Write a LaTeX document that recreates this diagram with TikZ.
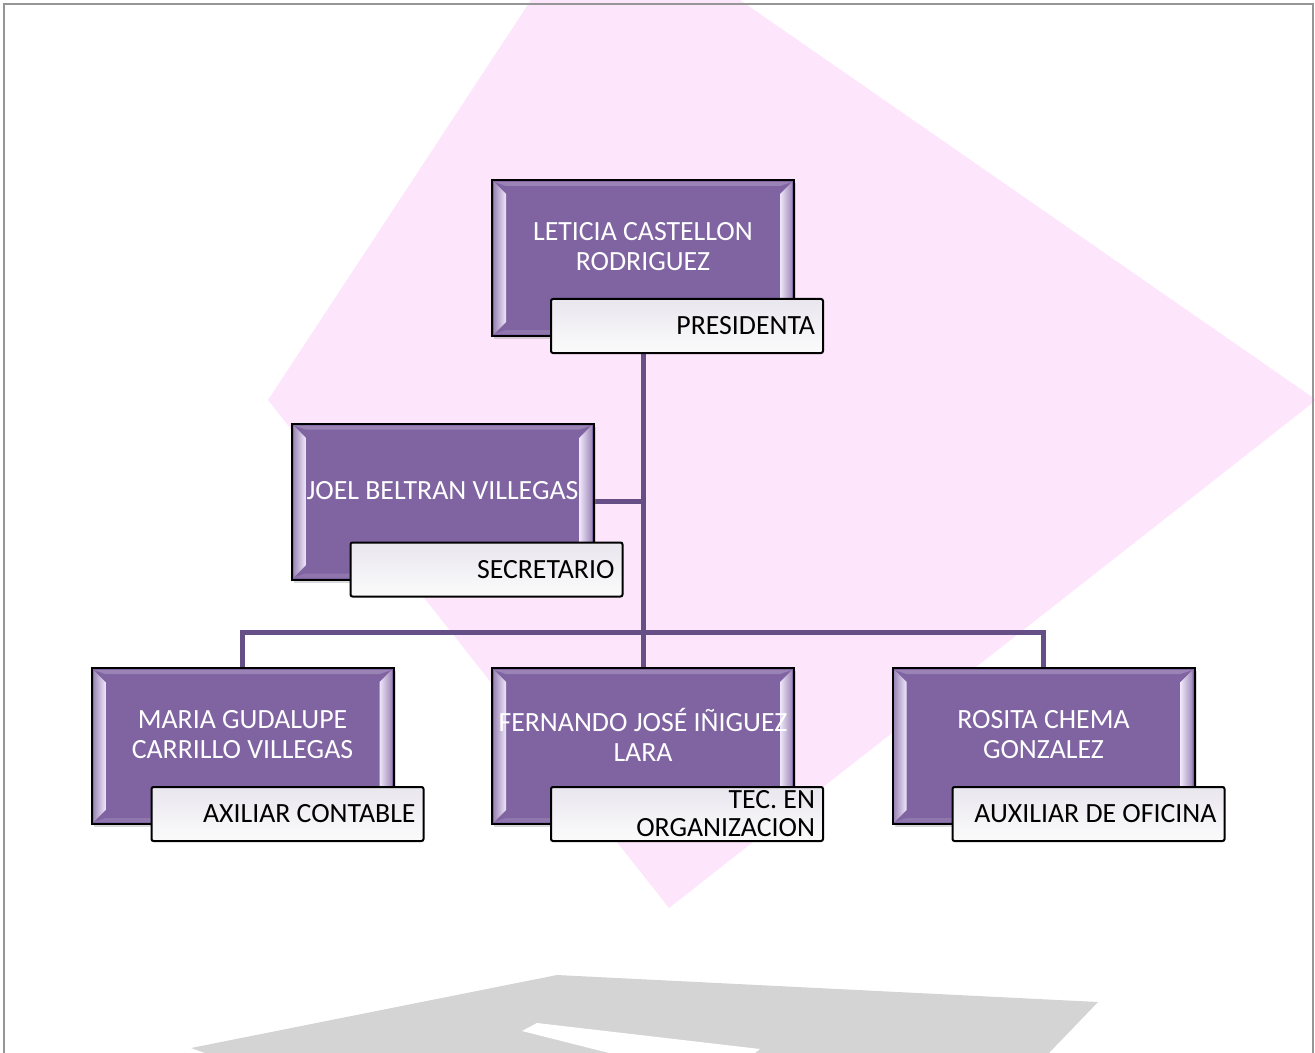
\documentclass[tikz,border=0pt]{standalone}
\usepackage{fontspec}
\setmainfont{Carlito}
\usetikzlibrary{shadows}
\pgfdeclarelayer{fondo}
\pgfdeclarelayer{lineas}
\pgfsetlayers{fondo,lineas,main}
\definecolor{rosa}{RGB}{253,229,252}
\definecolor{morado}{RGB}{128,100,162}
\definecolor{moradoosc}{RGB}{102,79,134}
\definecolor{brillo}{RGB}{238,230,250}
\definecolor{gris}{RGB}{212,212,212}
\definecolor{marco}{RGB}{150,150,150}

\begin{document}
\begin{tikzpicture}[x=0.5pt,y=-0.5pt,
    cargo/.style={rectangle, draw=black, line width=1pt, fill=morado,
        minimum width=151pt, minimum height=78pt, inner sep=0pt,
        drop shadow={opacity=0.3, shadow xshift=1pt, shadow yshift=-1.5pt},
        path picture={
            \fill[morado!80!white]
                ([xshift=1pt,yshift=-1pt]path picture bounding box.north west) --
                ([xshift=-1pt,yshift=-1pt]path picture bounding box.north east) --
                ([xshift=-7pt,yshift=-3pt]path picture bounding box.north east) --
                ([xshift=7pt,yshift=-3pt]path picture bounding box.north west) -- cycle;
            \fill[morado!88!white]
                ([xshift=1pt,yshift=1pt]path picture bounding box.south west) --
                ([xshift=-1pt,yshift=1pt]path picture bounding box.south east) --
                ([xshift=-7pt,yshift=3pt]path picture bounding box.south east) --
                ([xshift=7pt,yshift=3pt]path picture bounding box.south west) -- cycle;
            \shade[left color=morado!75!white, right color=brillo]
                ([xshift=1pt,yshift=-1pt]path picture bounding box.north west) --
                ([xshift=7pt,yshift=-7pt]path picture bounding box.north west) --
                ([xshift=7pt,yshift=7pt]path picture bounding box.south west) --
                ([xshift=1pt,yshift=1pt]path picture bounding box.south west) -- cycle;
            \shade[left color=brillo, right color=morado!75!white]
                ([xshift=-7pt,yshift=-7pt]path picture bounding box.north east) --
                ([xshift=-1pt,yshift=-1pt]path picture bounding box.north east) --
                ([xshift=-1pt,yshift=1pt]path picture bounding box.south east) --
                ([xshift=-7pt,yshift=7pt]path picture bounding box.south east) -- cycle;
        }},
    nombre/.style={text=white, align=center, inner sep=0pt,
        font=\fontsize{13.9}{15}\selectfont},
    puesto/.style={rectangle, draw=black, line width=1pt, rounded corners=1pt,
        top color={rgb,255:red,233;green,230;blue,238}, bottom color={rgb,255:red,251;green,251;blue,251},
        minimum width=136pt, minimum height=27pt, text width=128pt,
        align=flush right, inner xsep=4pt, inner ysep=0pt,
        font=\fontsize{13.9}{14}\selectfont},
    linea/.style={draw=moradoosc, line width=2.5pt}]

    \useasboundingbox (0,0) rectangle (1315,1053);

    \begin{pgfonlayer}{fondo}
    \fill[rosa] (531,0) -- (268,400) -- (669,908) -- (1315,401) -- (1315,399) -- (740,0) -- cycle;
    \fill[gris] (191,1048) -- (557,975) -- (1098,1002) -- (1049,1053) -- (205,1053) -- cycle;
    \fill[white] (609,1053) -- (522,1031) -- (537,1023) -- (760,1049) -- (755,1053) -- cycle;
    \draw[marco, line width=1pt] (4,1053) -- (4,4) -- (1313,4) -- (1313,1053);
    \end{pgfonlayer}

    % presidencia
    \node[cargo] (pres) at (643,258) {};
    \node[nombre] (pres-n) at ([yshift=5.5pt]pres.center) {LETICIA CASTELLON\\RODRIGUEZ};
    \node[puesto, anchor=south east] (pres-p) at ([xshift=14.5pt,yshift=-8.5pt]pres.south east) {PRESIDENTA};

    % secretario
    \node[cargo] (sec) at (442.5,501.5) {};
    \node[nombre] (sec-n) at ([yshift=5.5pt]sec.center) {JOEL BELTRAN VILLEGAS};
    \node[puesto, anchor=south east] (sec-p) at ([xshift=14.5pt,yshift=-8.5pt]sec.south east) {SECRETARIO};

    % auxiliares
    \node[cargo] (maria) at (242.5,746) {};
    \node[nombre] (maria-n) at ([yshift=5.5pt]maria.center) {MARIA GUDALUPE\\CARRILLO VILLEGAS};
    \node[puesto, anchor=south east] (maria-p) at ([xshift=15pt,yshift=-8.5pt]maria.south east) {AXILIAR CONTABLE};

    \node[cargo] (fer) at (643,746) {};
    \node[nombre] (fer-n) at ([yshift=5.5pt]fer.center) {FERNANDO JOSÉ IÑIGUEZ\\LARA};
    \node[puesto, anchor=south east] (fer-p) at ([xshift=14.5pt,yshift=-8.5pt]fer.south east) {TEC. EN\\ORGANIZACION};

    \node[cargo] (rosita) at (1043.5,746) {};
    \node[nombre] (rosita-n) at ([yshift=5.5pt]rosita.center) {ROSITA CHEMA\\GONZALEZ};
    \node[puesto, anchor=south east] (rosita-p) at ([xshift=15pt,yshift=-8.5pt]rosita.south east) {AUXILIAR DE OFICINA};

    \coordinate (bus) at (643,632);

    \begin{pgfonlayer}{lineas}
    \draw[linea] (pres.center) -- (fer.center);
    \draw[linea] (sec.center) -- (sec.center -| pres.center);
    \draw[linea] (maria.center) |- (bus) -| (rosita.center);
    \end{pgfonlayer}

\end{tikzpicture}
\end{document}
